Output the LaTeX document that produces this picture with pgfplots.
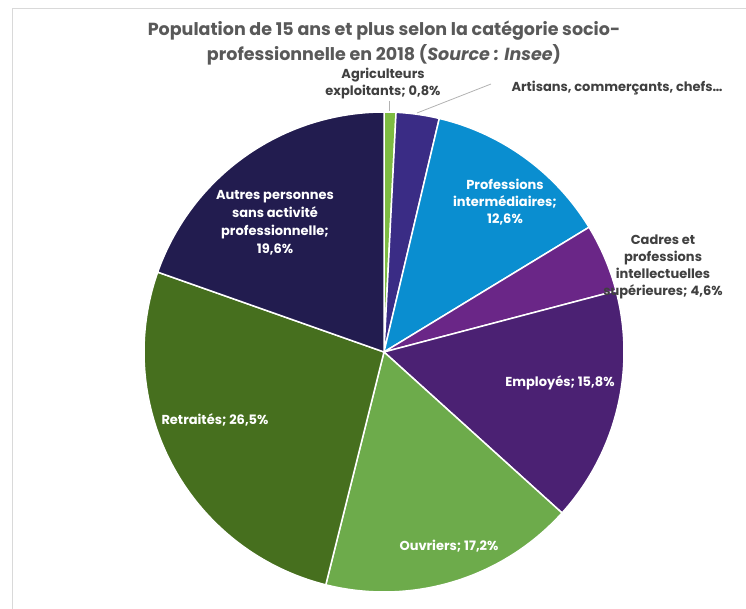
\documentclass[border=0pt]{standalone}
\usepackage{pgfplots}
\pgfplotsset{compat=1.18}
\usepackage{fontspec}
\setmainfont{Poppins}
\definecolor{cAgri}{HTML}{7DBB42}
\definecolor{cArt}{HTML}{3A2C85}
\definecolor{cProf}{HTML}{0A8ED0}
\definecolor{cCadre}{HTML}{6A2687}
\definecolor{cEmpl}{HTML}{4B2173}
\definecolor{cOuv}{HTML}{6DAB4B}
\definecolor{cRet}{HTML}{466F1E}
\definecolor{cAut}{HTML}{221C4F}
\definecolor{cTitle}{HTML}{595959}
\definecolor{cLab}{HTML}{404040}
% Shares (%): Agriculteurs 0.8, Artisans 2.9, Prof. interm. 12.6, Cadres 4.6,
% Employes 15.8, Ouvriers 17.2, Retraites 26.5, Autres 19.6
% domain bounds below are the cumulative shares, clockwise from 12 o'clock
\pgfplotsset{slice/.style={draw=white, line width=1.5bp, fill=#1, samples=80}}
\begin{document}
\begin{tikzpicture}
\useasboundingbox (0,0) rectangle (746bp,609bp);
\begin{axis}[at={(0,0)}, anchor=south west, width=746bp, height=609bp, scale only axis,
  hide axis, xmin=0, xmax=746, ymin=0, ymax=609, clip=false]
\addplot[color=gray!30, line width=1bp] coordinates {(12,0) (12,600) (746,600)};
\addplot[slice=cAgri, domain=0:0.8, samples=6] ({384+240*sin(3.6*x)},{257+240*cos(3.6*x)}) -- (axis cs:384,257) -- cycle;
\addplot[slice=cArt, domain=0.8:3.7, samples=12] ({384+240*sin(3.6*x)},{257+240*cos(3.6*x)}) -- (axis cs:384,257) -- cycle;
\addplot[slice=cProf, domain=3.7:16.3] ({384+240*sin(3.6*x)},{257+240*cos(3.6*x)}) -- (axis cs:384,257) -- cycle;
\addplot[slice=cCadre, domain=16.3:20.9, samples=30] ({384+240*sin(3.6*x)},{257+240*cos(3.6*x)}) -- (axis cs:384,257) -- cycle;
\addplot[slice=cEmpl, domain=20.9:36.7] ({384+240*sin(3.6*x)},{257+240*cos(3.6*x)}) -- (axis cs:384,257) -- cycle;
\addplot[slice=cOuv, domain=36.7:53.9] ({384+240*sin(3.6*x)},{257+240*cos(3.6*x)}) -- (axis cs:384,257) -- cycle;
\addplot[slice=cRet, domain=53.9:80.4, samples=100] ({384+240*sin(3.6*x)},{257+240*cos(3.6*x)}) -- (axis cs:384,257) -- cycle;
\addplot[slice=cAut, domain=80.4:100] ({384+240*sin(3.6*x)},{257+240*cos(3.6*x)}) -- (axis cs:384,257) -- cycle;
% leader lines
\addplot[color=gray!60, line width=0.8bp] coordinates {(389,508) (389,498)};
\addplot[color=gray!60, line width=0.8bp] coordinates {(491,525) (417,496)};
% title
\node[text=cTitle, align=center, font=\fontsize{17.5bp}{25bp}\selectfont\bfseries] at (axis cs:384,566)
  {Population de 15 ans et plus selon la catégorie socio-\\professionnelle en 2018 (\textit{Source : Insee})};
% labels
\node[text=cLab, align=center, font=\fontsize{13bp}{17bp}\selectfont\bfseries] at (axis cs:383,525.5)
  {Agriculteurs\\exploitants; 0,8\%};
\node[text=cLab, anchor=west, font=\fontsize{13bp}{17bp}\selectfont\bfseries] at (axis cs:508,521)
  {Artisans, commerçants, chefs…};
\node[text=white, align=center, font=\fontsize{13bp}{17bp}\selectfont\bfseries] at (axis cs:505,407)
  {Professions\\intermédiaires;\\12,6\%};
\node[text=cLab, align=center, font=\fontsize{13bp}{17bp}\selectfont\bfseries] at (axis cs:663,342.5)
  {Cadres et\\professions\\intellectuelles\\supérieures; 4,6\%};
\node[text=white, font=\fontsize{13bp}{17bp}\selectfont\bfseries] at (axis cs:560,226)
  {Employés; 15,8\%};
\node[text=white, font=\fontsize{13bp}{17bp}\selectfont\bfseries] at (axis cs:449,63)
  {Ouvriers; 17,2\%};
\node[text=white, font=\fontsize{13bp}{17bp}\selectfont\bfseries] at (axis cs:215,189)
  {Retraités; 26,5\%};
\node[text=white, align=center, font=\fontsize{13bp}{18bp}\selectfont\bfseries] at (axis cs:275,386.5)
  {Autres personnes\\sans activité\\professionnelle;\\19,6\%};
\end{axis}
\end{tikzpicture}
\end{document}
